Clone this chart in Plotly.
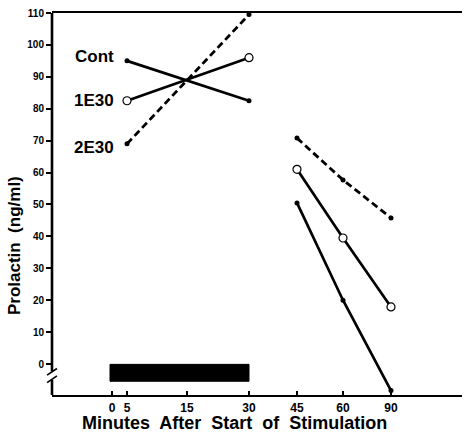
import plotly.graph_objects as go

# ---- data ----
tick_minutes = [0, 5, 15, 30, 45, 60, 90]
tick_labels = ["0", "5", "15", "30", "45", "60", "90"]
early_minutes = [5, 30]
late_minutes = [45, 60, 90]

cont_early = [95, 82.5]
cont_late = [50.5, 20, -8.3]
e1_early = [82.5, 96]
e1_late = [61, 39.5, 17.9]
e2_early = [69, 109.5]
e2_late = [70.8, 57.7, 45.8]

stim_period = [0, 30]
y_ticks = [0, 10, 20, 30, 40, 50, 60, 70, 80, 90, 100, 110]

# nonlinear (broken) time axis: minute -> axis position
axis_pos = {0: 60, 5: 75, 15: 135, 30: 197, 45: 245, 60: 291, 90: 339}


def px(mins):
    return [axis_pos[m] for m in mins]


BOLD = dict(family="Liberation Sans, Arial, sans-serif", color="black", weight="bold")

fig = go.Figure()

solid = dict(color="black", width=2.7)
dashed = dict(color="black", width=2.8, dash="7px,4px")
dot = dict(symbol="circle", size=5, color="black")
ring = dict(symbol="circle", size=8, color="white", line=dict(color="black", width=1.2))

for xs, ys, line, mk in [
    (early_minutes, cont_early, solid, dot),
    (late_minutes, cont_late, solid, dot),
    (early_minutes, e2_early, dashed, dot),
    (late_minutes, e2_late, dashed, dot),
    (early_minutes, e1_early, solid, ring),
    (late_minutes, e1_late, solid, ring),
]:
    fig.add_trace(go.Scatter(x=px(xs), y=ys, mode="lines+markers", line=line,
                             marker=mk, cliponaxis=False, showlegend=False,
                             hoverinfo="skip"))

# series labels
for txt, yv in [("Cont", cont_early[0] + 1.5), ("1E30", e1_early[0]), ("2E30", e2_early[0] - 1)]:
    fig.add_annotation(x=axis_pos[5] - 11, y=yv, text=txt, showarrow=False,
                       xanchor="right", yanchor="middle",
                       font=dict(size=17, **BOLD))

# axis titles
fig.add_annotation(xref="paper", x=-0.09, y=37, text="Prolactin  (ng/ml)",
                   textangle=-90, showarrow=False, xanchor="center", yanchor="middle",
                   font=dict(size=17, **BOLD))
fig.add_annotation(xref="paper", yref="paper", x=0.444, y=-0.073,
                   text="Minutes  After  Start  of  Stimulation",
                   showarrow=False, xanchor="center", yanchor="middle",
                   font=dict(size=18, **BOLD))

# stimulation bar
fig.add_shape(type="rect", x0=axis_pos[stim_period[0]] - 2, x1=axis_pos[stim_period[1]],
              y0=-5.4, y1=-0.1, fillcolor="black", line=dict(color="black", width=1))

# y-axis line with break
axl = dict(color="black", width=2.6)
fig.add_shape(type="line", xref="paper", x0=0, x1=0, y0=110, y1=-2.2, line=axl)
fig.add_shape(type="line", xref="paper", x0=0, x1=0, y0=-5.0, y1=-9.7, line=axl)
fig.add_shape(type="line", xref="paper", x0=-0.012, x1=0.012, y0=-3.5, y1=-1.4,
              line=dict(color="black", width=1.6))
fig.add_shape(type="line", xref="paper", x0=-0.012, x1=0.012, y0=-5.8, y1=-3.7,
              line=dict(color="black", width=1.6))

fig.update_layout(
    width=465, height=435,
    margin=dict(l=52, r=3, t=13, b=40),
    paper_bgcolor="white", plot_bgcolor="white",
    xaxis=dict(range=[0, 410], tickvals=px(tick_minutes), ticktext=tick_labels,
               showline=True, linecolor="black", linewidth=2.2, mirror=True,
               ticks="inside", ticklen=4, tickwidth=1.5, tickcolor="black",
               showgrid=False, zeroline=False,
               tickfont=dict(size=12, **BOLD)),
    yaxis=dict(range=[-9.7, 110], tickvals=y_ticks,
               showline=False, showgrid=False, zeroline=False,
               ticks="outside", ticklen=5, tickwidth=1.5, tickcolor="black",
               tickfont=dict(size=10, **BOLD)),
)

fig.write_html("out.html")
